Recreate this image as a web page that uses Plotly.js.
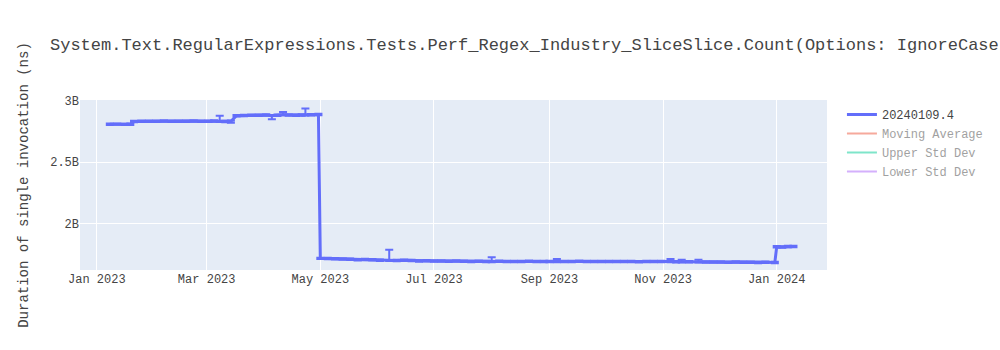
<!DOCTYPE html>
<html>
<head>
<meta charset="utf-8">
<script src="https://cdn.plot.ly/plotly-3.0.1.min.js"></script>
<style>html,body{margin:0;padding:0;background:#fff}</style>
</head>
<body>
<div id="chart" style="width:1000px;height:350px"></div>
<script>
const runName = "20240109.4";
const dates = [
"2023-01-08","2023-01-12","2023-01-16","2023-01-19",
"2023-01-21","2023-01-25","2023-01-29","2023-02-02","2023-02-06","2023-02-10","2023-02-14","2023-02-18","2023-02-22","2023-02-26","2023-03-02","2023-03-05","2023-03-08","2023-03-11","2023-03-14",
"2023-03-17","2023-03-21","2023-03-25","2023-03-29","2023-04-02","2023-04-05","2023-04-08","2023-04-11","2023-04-14","2023-04-18","2023-04-21","2023-04-23","2023-04-26","2023-04-30",
"2023-05-01","2023-05-05","2023-05-09","2023-05-13","2023-05-17","2023-05-21","2023-05-25","2023-05-29","2023-06-02","2023-06-07","2023-06-11","2023-06-15","2023-06-19","2023-06-23","2023-06-27",
"2023-07-01","2023-07-05","2023-07-09","2023-07-13","2023-07-17","2023-07-21","2023-07-25","2023-07-29","2023-08-01","2023-08-05","2023-08-09","2023-08-13","2023-08-17","2023-08-21","2023-08-25","2023-08-29","2023-09-01","2023-09-05","2023-09-09","2023-09-13","2023-09-17","2023-09-21","2023-09-25","2023-09-29",
"2023-10-03","2023-10-07","2023-10-11","2023-10-15","2023-10-19","2023-10-23","2023-10-27","2023-10-31","2023-11-05","2023-11-08","2023-11-11","2023-11-15","2023-11-20","2023-11-24","2023-11-28","2023-12-02","2023-12-06","2023-12-10","2023-12-14","2023-12-18","2023-12-22","2023-12-26","2023-12-31",
"2024-01-01","2024-01-04","2024-01-07","2024-01-10"
];
const durations = [
2.810e9,2.811e9,2.809e9,2.810e9,
2.833e9,2.834e9,2.835e9,2.834e9,2.836e9,2.835e9,2.834e9,2.835e9,2.836e9,2.834e9,2.835e9,2.836e9,2.835e9,2.833e9,2.834e9,
2.880e9,2.882e9,2.884e9,2.883e9,2.885e9,2.880e9,2.884e9,2.890e9,2.886e9,2.884e9,2.886e9,2.888e9,2.887e9,2.889e9,
1.715e9,1.713e9,1.712e9,1.710e9,1.708e9,1.704e9,1.706e9,1.703e9,1.700e9,1.700e9,1.698e9,1.700e9,1.697e9,1.694e9,1.696e9,
1.694e9,1.693e9,1.692e9,1.693e9,1.691e9,1.690e9,1.691e9,1.690e9,1.690e9,1.691e9,1.690e9,1.689e9,1.690e9,1.691e9,1.690e9,1.689e9,1.690e9,1.690e9,1.689e9,1.690e9,1.691e9,1.690e9,1.689e9,1.690e9,
1.690e9,1.689e9,1.690e9,1.689e9,1.688e9,1.689e9,1.690e9,1.689e9,1.689e9,1.688e9,1.688e9,1.687e9,1.688e9,1.686e9,1.685e9,1.686e9,1.684e9,1.685e9,1.683e9,1.684e9,1.682e9,1.683e9,1.681e9,
1.810e9,1.808e9,1.811e9,1.812e9
];
const errPlus = [
0.006e9,0.006e9,0.006e9,0.006e9,
0.006e9,0.006e9,0.006e9,0.006e9,0.006e9,0.006e9,0.006e9,0.006e9,0.006e9,0.006e9,0.006e9,0.006e9,0.045e9,0.006e9,0.006e9,
0.006e9,0.006e9,0.006e9,0.006e9,0.006e9,0.006e9,0.006e9,0.020e9,0.006e9,0.006e9,0.006e9,0.050e9,0.006e9,0.006e9,
0.006e9,0.006e9,0.006e9,0.006e9,0.006e9,0.006e9,0.006e9,0.006e9,0.006e9,0.085e9,0.006e9,0.006e9,0.006e9,0.006e9,0.006e9,
0.006e9,0.006e9,0.006e9,0.006e9,0.006e9,0.006e9,0.006e9,0.006e9,0.035e9,0.006e9,0.006e9,0.006e9,0.006e9,0.006e9,0.006e9,0.006e9,0.006e9,0.020e9,0.006e9,0.006e9,0.006e9,0.006e9,0.006e9,0.006e9,
0.006e9,0.006e9,0.006e9,0.006e9,0.006e9,0.006e9,0.006e9,0.006e9,0.020e9,0.006e9,0.015e9,0.006e9,0.015e9,0.006e9,0.006e9,0.006e9,0.006e9,0.006e9,0.006e9,0.006e9,0.006e9,0.006e9,0.006e9,
0.006e9,0.006e9,0.006e9,0.006e9
];
const errMinus = [
0.006e9,0.006e9,0.006e9,0.006e9,
0.006e9,0.006e9,0.006e9,0.006e9,0.006e9,0.006e9,0.006e9,0.006e9,0.006e9,0.006e9,0.006e9,0.006e9,0.006e9,0.006e9,0.012e9,
0.006e9,0.006e9,0.006e9,0.006e9,0.006e9,0.030e9,0.006e9,0.006e9,0.006e9,0.006e9,0.006e9,0.006e9,0.006e9,0.006e9,
0.006e9,0.006e9,0.006e9,0.006e9,0.006e9,0.006e9,0.006e9,0.006e9,0.006e9,0.006e9,0.006e9,0.006e9,0.006e9,0.006e9,0.006e9,
0.006e9,0.006e9,0.006e9,0.006e9,0.006e9,0.006e9,0.006e9,0.006e9,0.006e9,0.006e9,0.006e9,0.006e9,0.006e9,0.006e9,0.006e9,0.006e9,0.006e9,0.006e9,0.006e9,0.006e9,0.006e9,0.006e9,0.006e9,0.006e9,
0.006e9,0.006e9,0.006e9,0.006e9,0.006e9,0.006e9,0.006e9,0.006e9,0.006e9,0.006e9,0.006e9,0.006e9,0.006e9,0.006e9,0.006e9,0.006e9,0.006e9,0.006e9,0.006e9,0.006e9,0.006e9,0.006e9,0.006e9,
0.006e9,0.006e9,0.006e9,0.006e9
];
// hidden (legend-only) series
const statDates = ["2023-01-08","2023-04-30","2023-05-01","2023-12-31","2024-01-10"];
const movingAverage = [2.810e9,2.885e9,1.715e9,1.685e9,1.790e9];
const upperStdDev = [2.830e9,2.950e9,1.760e9,1.700e9,1.830e9];
const lowerStdDev = [2.790e9,2.820e9,1.670e9,1.670e9,1.750e9];

const titleText = "System.Text.RegularExpressions.Tests.Perf_Regex_Industry_SliceSlice.Count(Options: IgnoreCase, Compiled)";

const traces = [
  {x: dates, y: durations, name: runName, type: "scatter", mode: "lines",
   line: {color: "#636efa", width: 3},
   error_y: {type: "data", symmetric: false, array: errPlus, arrayminus: errMinus,
             color: "#636efa", thickness: 2, width: 4}},
  {x: statDates, y: movingAverage, name: "Moving Average", type: "scatter", mode: "lines", visible: "legendonly", line: {color: "#EF553B"}},
  {x: statDates, y: upperStdDev, name: "Upper Std Dev", type: "scatter", mode: "lines", visible: "legendonly", line: {color: "#00cc96"}},
  {x: statDates, y: lowerStdDev, name: "Lower Std Dev", type: "scatter", mode: "lines", visible: "legendonly", line: {color: "#ab63fa"}}
];

const layout = {
  width: 1000, height: 350,
  font: {family: "'Liberation Mono', 'Courier New', monospace", color: "#444"},
  title: {text: titleText, font: {size: 17}, x: 0.05, xanchor: "left"},
  plot_bgcolor: "#E5ECF6",
  paper_bgcolor: "#fff",
  xaxis: {type: "date", range: ["2022-12-23", "2024-01-28"], dtick: "M2", tick0: "2023-01-01",
          tickformat: "%b %Y", gridcolor: "#fff", zeroline: false, showline: false},
  yaxis: {range: [1.62e9, 3.008e9], dtick: 0.5e9, tick0: 0, gridcolor: "#fff", zeroline: false,
          title: {text: "Duration of single invocation (ns)", standoff: 18}},
  legend: {font: {size: 12}},
  showlegend: true
};

Plotly.newPlot("chart", traces, layout, {displayModeBar: false});
</script>
</body>
</html>
